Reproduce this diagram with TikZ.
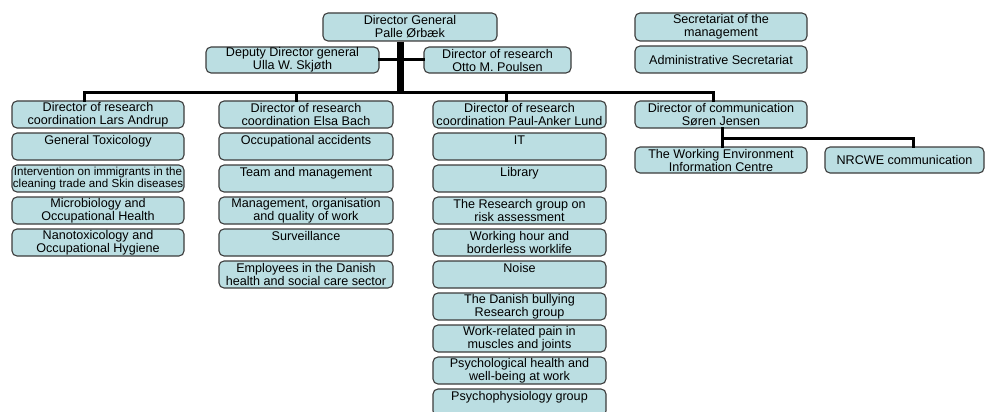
\documentclass[tikz,border=0pt]{standalone}
\usepackage{fontspec}
\setmainfont{Liberation Sans}
\definecolor{boxfill}{RGB}{187,222,226}
\definecolor{boxline}{RGB}{60,60,60}
\tikzset{
  orgbox/.style={draw=boxline, fill=boxfill, line width=1.1pt, rounded corners=5pt,
    align=center, inner sep=0pt, font=\fontsize{12.6}{13}\selectfont},
  conn/.style={line width=3pt, line cap=rect, black},
  trunkline/.style={line width=7pt, black}
}
\newcommand{\obox}[6]{%
  \node[orgbox, minimum width={#4-#2}, minimum height={#5-#3}] (#1) at ({(#2+#4)/2},{(#3+#5)/2}) {#6};}
\begin{document}
\begin{tikzpicture}[x=1pt,y=-1pt]
\useasboundingbox (0,0) rectangle (986,412);
\clip (0,0) rectangle (986,412);
\fill[white] (0,0) rectangle (986,412);
% coordinates for connectors
\coordinate (trunk) at (400,93);
\coordinate (barL) at (84,93);
\coordinate (barR) at (713,93);
\coordinate (d2) at (296,93);
\coordinate (d3) at (506,93);
\coordinate (cj) at (722,138);
\coordinate (cn) at (913,138);
% top
\obox{dg}{323}{13}{497}{41}{Director General\\Palle Ørbæk}
\obox{dep}{206}{47}{379}{73}{Deputy Director general\\Ulla W. Skjøth}
\obox{otto}{424}{47}{571}{73}{Director of research\\Otto M. Poulsen}
\obox{sec}{635}{13}{807}{41}{Secretariat of the\\management}
\obox{adm}{635}{46}{807}{73}{Administrative Secretariat}
% column 1
\obox{lars}{12}{101}{184}{128}{Director of research\\coordination Lars Andrup}
\obox{a1}{12}{133}{184}{160}{General Toxicology\\\mbox{}}
\obox{a2}{12}{165}{184}{192}{\fontsize{11.6}{13}\selectfont Intervention on immigrants in the\\\fontsize{11.6}{13}\selectfont cleaning trade and Skin diseases}
\obox{a3}{12}{197}{184}{224}{Microbiology and\\Occupational Health}
\obox{a4}{12}{229}{184}{256}{Nanotoxicology and\\Occupational Hygiene}
% column 2
\obox{elsa}{219}{101}{393}{128}{Director of research\\coordination Elsa Bach}
\obox{b1}{219}{133}{393}{160}{Occupational accidents\\\mbox{}}
\obox{b2}{219}{165}{393}{192}{Team and management\\\mbox{}}
\obox{b3}{219}{197}{393}{224}{Management, organisation\\and quality of work}
\obox{b4}{219}{229}{393}{256}{Surveillance\\\mbox{}}
\obox{b5}{219}{261}{393}{288}{Employees in the Danish\\health and social care sector}
% column 3
\obox{paul}{433}{101}{606}{128}{Director of research\\coordination Paul-Anker Lund}
\obox{c1}{433}{133}{606}{160}{IT\\\mbox{}}
\obox{c2}{433}{165}{606}{192}{Library\\\mbox{}}
\obox{c3}{433}{197}{606}{224}{The Research group on\\risk assessment}
\obox{c4}{433}{229}{606}{256}{Working hour and\\borderless worklife}
\obox{c5}{433}{261}{606}{288}{Noise\\\mbox{}}
\obox{c6}{433}{293}{606}{320}{The Danish bullying\\Research group}
\obox{c7}{433}{325}{606}{352}{Work-related pain in\\muscles and joints}
\obox{c8}{433}{357}{606}{384}{Psychological health and\\well-being at work}
\obox{c9}{433}{389}{606}{416}{Psychophysiology group\\\mbox{}}
% column 4
\obox{comm}{635}{101}{807}{128}{Director of communication\\Søren Jensen}
\obox{wec}{635}{147}{807}{173}{The Working Environment\\Information Centre}
\obox{nrcwe}{825}{147}{984}{173}{NRCWE communication}
% connectors
\draw[trunkline] (trunk |- dg.south) -- (trunk);
\draw[conn] (dep.east) -- (otto.west);
\draw[conn] (barL) -- (barR);
\draw[conn] (barL) -- (barL |- lars.north);
\draw[conn] (d2) -- (d2 |- elsa.north);
\draw[conn] (d3) -- (d3 |- paul.north);
\draw[conn] (barR) -- (barR |- comm.north);
\draw[conn] (cj |- comm.south) -- (cj |- wec.north);
\draw[conn] (cj) -- (cn) -- (cn |- nrcwe.north);
\end{tikzpicture}
\end{document}
